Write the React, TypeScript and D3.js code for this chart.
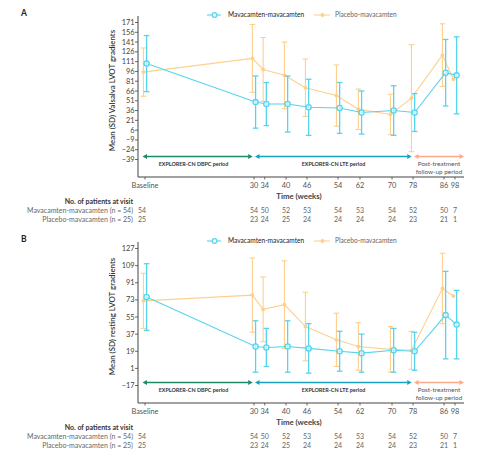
import * as d3 from "d3";

// visits (weeks) and their axis labels
const weeks = [0, 30, 34, 40, 46, 54, 62, 70, 78, 86, 98];
const weekLabels = ["Baseline", "30", "34", "40", "46", "54", "62", "70", "78", "86", "98"];
// the original axis is not to scale: horizontal slot of every visit
const weekSlots = [0, 10.23, 11.24, 13.24, 15.21, 18.12, 20.18, 23.19, 25.16, 28.07, 29.1];

// patients at visit
const nMava = [54, 54, 50, 52, 53, 54, 53, 54, 52, 50, 7];
const nPlac = [25, 23, 24, 25, 24, 24, 24, 24, 23, 21, 1];

// panel A: Valsalva LVOT gradients
const valsalvaMavaMean = [108, 49, 46, 46, 41, 40, 33, 36, 33, 94, 90];
const valsalvaMavaSD = [43, 40, 33, 43, 43, 39, 33, 38, 29, 51, 59];
const valsalvaPlacMean = [95, 116, 99, 90, 71, 59, 38, 30, 55, 121, 84];
const valsalvaPlacSD = [37, 52, 49, 51, 44, 47, 31, 31, 82, 48, null];
const valsalvaTicks = d3.range(-39, 172, 15);

// panel B: resting LVOT gradients
const restMavaMean = [76, 24, 23, 24, 22, 19, 17, 20, 19, 57, 47];
const restMavaSD = [35, 27, 20, 27, 26, 21, 20, 23, 20, 46, 36];
const restPlacMean = [72, 78, 63, 68, 45, 31, 24, 21, 20, 85, 77];
const restPlacSD = [29, 39, 34, 46, 36, 28, 25, 24, 20, 37, null];
const restTicks = d3.range(-17, 128, 18);

const FONT = "Lato, 'Open Sans', sans-serif";
const BLUE = "#55d4ee";
const ORANGE = "#fdd08f";
const GREEN = "#1e8a6a";
const TEAL = "#19a2c0";
const SALMON = "#f9ab8c";
const AXIS = "#444";

const axisLeft = 138;
const axisRight = 464;

const x = d3
  .scaleLinear()
  .domain(d3.extent(weekSlots) as [number, number])
  .range([145, 455]);
const xAt = (i: number) => x(weekSlots[i]);

interface PanelProps {
  top: number;
  letter: string;
  yLabel: string;
  ticks: number[];
  mavaMean: number[];
  mavaSD: (number | null)[];
  placMean: number[];
  placSD: (number | null)[];
}

function Arrow({ x1, x2, y, color }: { x1: number; x2: number; y: number; color: string }) {
  const h = 4.5;
  const w = 2.6;
  return (
    <g>
      <line x1={x1 + h - 0.5} x2={x2 - h + 0.5} y1={y} y2={y} stroke={color} strokeWidth={1.6} />
      <path d={`M${x1},${y}L${x1 + h},${y - w}L${x1 + h},${y + w}Z`} fill={color} />
      <path d={`M${x2},${y}L${x2 - h},${y - w}L${x2 - h},${y + w}Z`} fill={color} />
    </g>
  );
}

function Series({
  mean,
  sd,
  color,
  dx,
  y,
  open,
}: {
  mean: number[];
  sd: (number | null)[];
  color: string;
  dx: number;
  y: d3.ScaleLinear<number, number>;
  open: boolean;
}) {
  const line = d3
    .line<number>()
    .x((_, i) => xAt(i) + dx)
    .y((d) => y(d));
  return (
    <g>
      {mean.map((m, i) => {
        const s = sd[i];
        if (s == null) return null;
        const cx = xAt(i) + dx;
        return (
          <g key={i} stroke={color} strokeWidth={open ? 1.3 : 1.1}>
            <line x1={cx} x2={cx} y1={y(m - s)} y2={y(m + s)} />
            <line x1={cx - 2.8} x2={cx + 2.8} y1={y(m - s)} y2={y(m - s)} />
            <line x1={cx - 2.8} x2={cx + 2.8} y1={y(m + s)} y2={y(m + s)} />
          </g>
        );
      })}
      <path d={line(mean) ?? ""} fill="none" stroke={color} strokeWidth={1.1} />
      {mean.map((m, i) =>
        open ? (
          <circle key={i} cx={xAt(i) + dx} cy={y(m)} r={2.6} fill="#fff" fillOpacity={0.6} stroke={color} strokeWidth={1.3} />
        ) : (
          <circle key={i} cx={xAt(i) + dx} cy={y(m)} r={1.9} fill={color} />
        )
      )}
    </g>
  );
}

function Panel({ top, letter, yLabel, ticks, mavaMean, mavaSD, placMean, placSD }: PanelProps) {
  const y = d3
    .scaleLinear()
    .domain(d3.extent(ticks) as [number, number])
    .range([159.5, 22.5]);
  const axisTop = 16;
  const axisBottom = 177;
  const arrowY = 156.5;
  return (
    <g transform={`translate(0,${top})`} fontFamily={FONT}>
      <text x={21} y={16} fontSize={8.5} fontWeight={700} fill="#222">
        {letter}
      </text>

      {/* legend */}
      <line x1={207} x2={221} y1={15} y2={15} stroke={BLUE} strokeWidth={1.1} />
      <circle cx={214.5} cy={15} r={2.4} fill="#fff" stroke={BLUE} strokeWidth={1.2} />
      <text x={228} y={15} dy="0.33em" fontSize={6.6} fill="#222">
        Mavacamten-mavacamten
      </text>
      <line x1={314} x2={330} y1={15} y2={15} stroke={ORANGE} strokeWidth={1.1} />
      <circle cx={322.5} cy={15} r={1.9} fill={ORANGE} />
      <text x={335} y={15} dy="0.33em" fontSize={6.6} fill="#666">
        Placebo-mavacamten
      </text>

      {/* y axis */}
      <line x1={axisLeft} x2={axisLeft} y1={axisTop} y2={axisBottom} stroke={AXIS} strokeWidth={1} />
      {ticks.map((t) => (
        <g key={t}>
          <line x1={axisLeft - 3} x2={axisLeft} y1={y(t)} y2={y(t)} stroke={AXIS} strokeWidth={0.8} />
          <text x={axisLeft - 3.5} y={y(t)} dy="0.34em" textAnchor="end" fontSize={7.4} fill="#444">
            {t < 0 ? `\u2212${-t}` : t}
          </text>
        </g>
      ))}
      <text
        transform={`translate(114.5,${(axisTop + axisBottom) / 2 - 6}) rotate(-90)`}
        textAnchor="middle"
        fontSize={7.9}
        fontWeight={600}
        fill="#333"
      >
        {yLabel}
      </text>

      {/* x axis */}
      <line x1={axisLeft} x2={axisRight} y1={axisBottom} y2={axisBottom} stroke={AXIS} strokeWidth={1} />
      {weekLabels.map((lab, i) => (
        <g key={lab}>
          <line x1={xAt(i)} x2={xAt(i)} y1={axisBottom} y2={axisBottom + 2.5} stroke={AXIS} strokeWidth={0.8} />
          <text x={xAt(i)} y={axisBottom + 8.5} dy="0.34em" textAnchor="middle" fontSize={7.4} fill="#555">
            {lab}
          </text>
        </g>
      ))}
      <text x={299} y={196.5} dy="0.34em" textAnchor="middle" fontSize={7.8} fontWeight={700} fill="#444">
        Time (weeks)
      </text>

      {/* study periods */}
      <Arrow x1={xAt(0) - 2.5} x2={xAt(1) - 1.3} y={arrowY} color={GREEN} />
      <Arrow x1={xAt(1) + 1} x2={xAt(8) - 1.3} y={arrowY} color={TEAL} />
      <Arrow x1={xAt(8) + 1} x2={axisRight} y={arrowY} color={SALMON} />
      <text x={(xAt(0) + xAt(1)) / 2 - 6} y={164.5} dy="0.34em" textAnchor="middle" fontSize={5.4} fontWeight={700} fill="#333">
        EXPLORER-CN DBPC period
      </text>
      <text x={(xAt(1) + xAt(8)) / 2} y={164} dy="0.34em" textAnchor="middle" fontSize={5.4} fontWeight={700} fill="#333">
        EXPLORER-CN LTE period
      </text>
      <text x={439} y={163.5} dy="0.34em" textAnchor="middle" fontSize={6.4} fill="#555">
        Post-treatment
      </text>
      <text x={439} y={172} dy="0.34em" textAnchor="middle" fontSize={6.4} fill="#555">
        follow-up period
      </text>

      {/* data */}
      <Series mean={placMean} sd={placSD} color={ORANGE} dx={-1.6} y={y} open={false} />
      <Series mean={mavaMean} sd={mavaSD} color={BLUE} dx={1.6} y={y} open={true} />

      {/* patients at visit */}
      <text x={133} y={201.5} dy="0.34em" textAnchor="end" fontSize={7} fontWeight={700} fill="#333">
        No. of patients at visit
      </text>
      <text x={133} y={211} dy="0.34em" textAnchor="end" fontSize={7} fill="#666">
        Mavacamten-mavacamten (n = 54)
      </text>
      <text x={133} y={220} dy="0.34em" textAnchor="end" fontSize={7} fill="#666">
        Placebo-mavacamten (n = 25)
      </text>
      {nMava.map((n, i) => (
        <text key={`m${i}`} x={i === 0 ? 142 : xAt(i)} y={211} dy="0.34em" textAnchor="middle" fontSize={7} fill="#666">
          {n}
        </text>
      ))}
      {nPlac.map((n, i) => (
        <text key={`p${i}`} x={i === 0 ? 142 : xAt(i)} y={220} dy="0.34em" textAnchor="middle" fontSize={7} fill="#666">
          {n}
        </text>
      ))}
    </g>
  );
}

export default function App() {
  return (
    <svg
      width={499}
      height={465}
      style={{ position: "absolute", left: 0, top: 0, background: "#fff" }}
    >
      <Panel
        top={0}
        letter="A"
        yLabel="Mean (SD) Valsalva LVOT gradients"
        ticks={valsalvaTicks}
        mavaMean={valsalvaMavaMean}
        mavaSD={valsalvaMavaSD}
        placMean={valsalvaPlacMean}
        placSD={valsalvaPlacSD}
      />
      <Panel
        top={226}
        letter="B"
        yLabel="Mean (SD) resting LVOT gradients"
        ticks={restTicks}
        mavaMean={restMavaMean}
        mavaSD={restMavaSD}
        placMean={restPlacMean}
        placSD={restPlacSD}
      />
    </svg>
  );
}
